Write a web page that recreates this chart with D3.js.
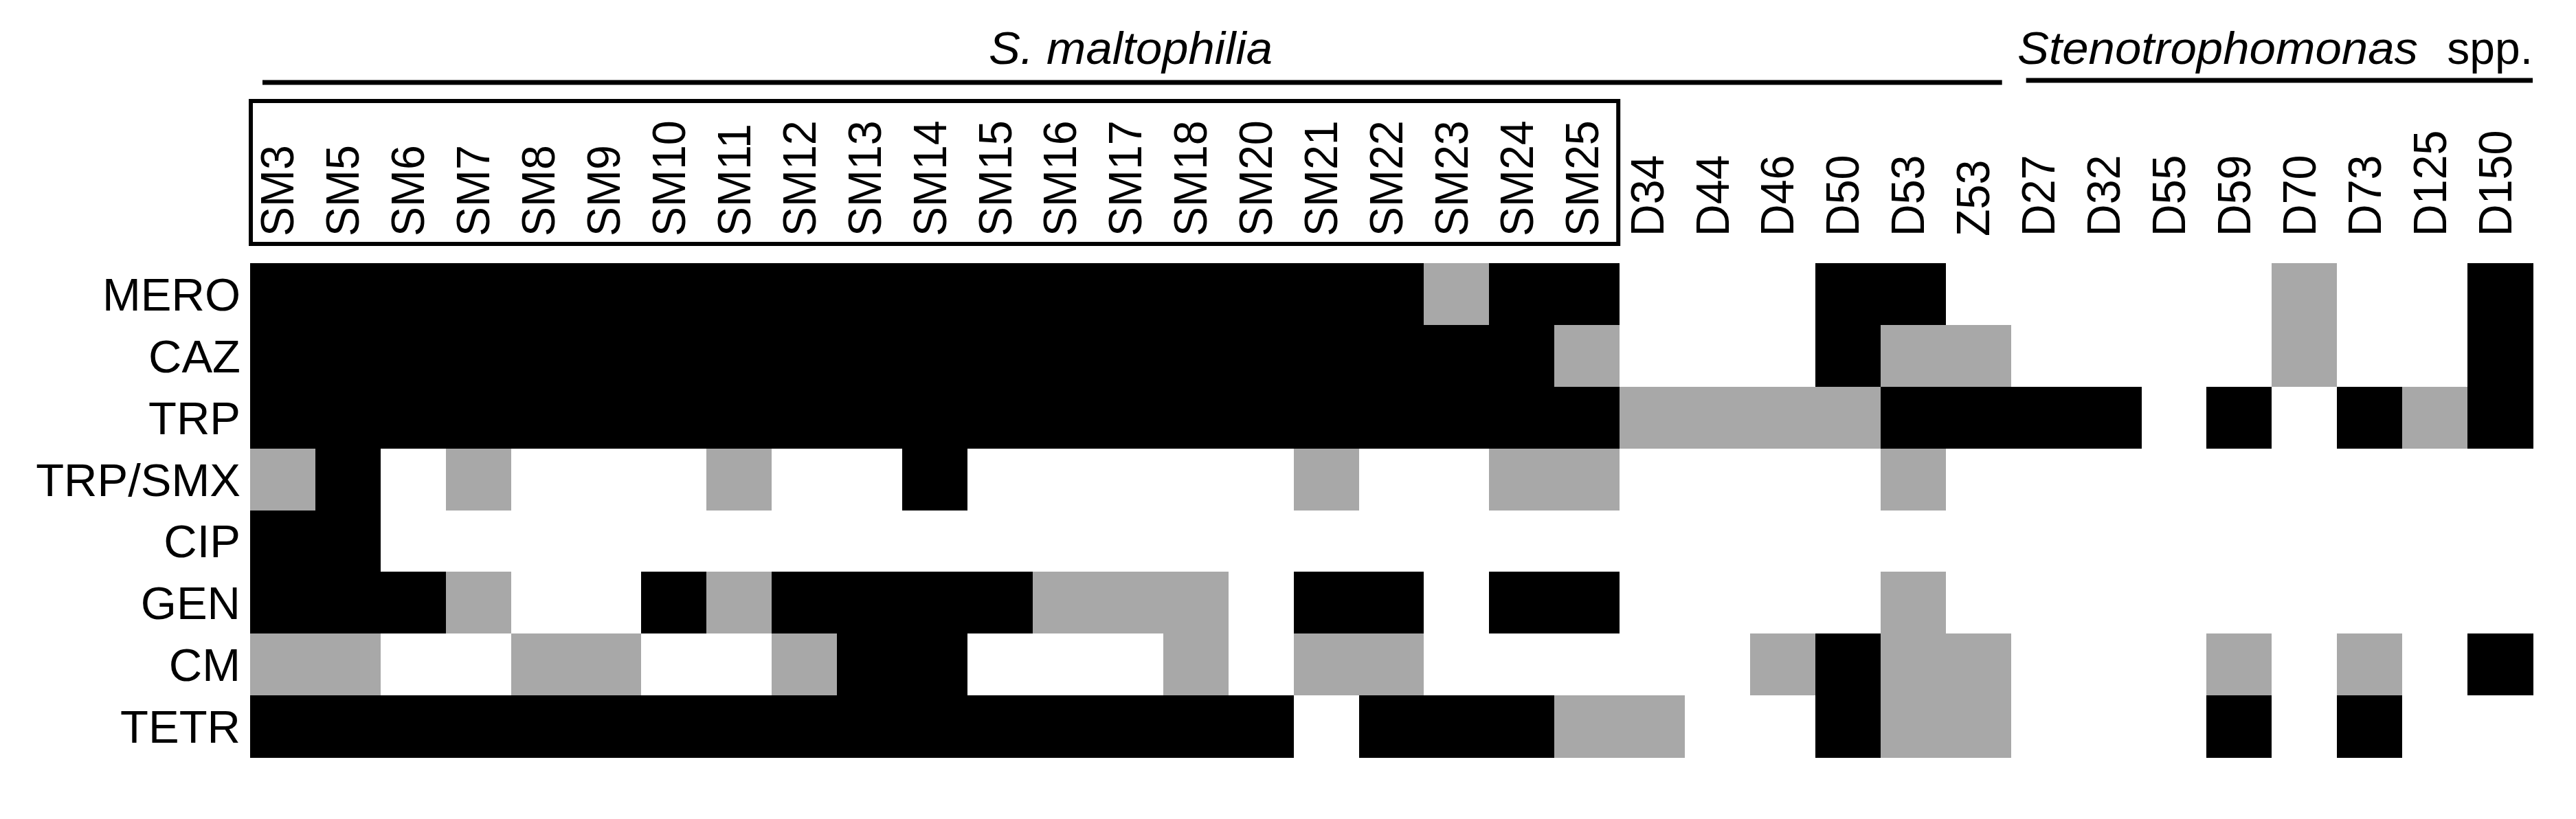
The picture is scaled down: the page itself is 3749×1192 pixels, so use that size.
<!DOCTYPE html>
<html>
<head>
<meta charset="utf-8">
<script src="https://cdn.jsdelivr.net/npm/d3@7"></script>
<style>
  body { margin: 0; background: #fff; }
  svg { display: block; }
  text { font-family: "Liberation Sans", Arial, sans-serif; fill: #000; }
</style>
</head>
<body>
<svg width="3749" height="1192"></svg>
<script>
// isolates (columns) and antibiotics (rows)
var isolates = ["SM3", "SM5", "SM6", "SM7", "SM8", "SM9", "SM10", "SM11", "SM12", "SM13",
    "SM14", "SM15", "SM16", "SM17", "SM18", "SM20", "SM21", "SM22", "SM23", "SM24", "SM25",
    "D34", "D44", "D46", "D50", "D53", "Z53",
    "D27", "D32", "D55", "D59", "D70", "D73", "D125", "D150"];
var antibiotics = ["MERO", "CAZ", "TRP", "TRP/SMX", "CIP", "GEN", "CM", "TETR"];

// 0 = susceptible (white), 1 = intermediate (grey), 2 = resistant (black)
var mero   = [2,2,2,2,2,2,2,2,2,2,2,2,2,2,2,2,2,2,1,2,2, 0,0,0,2,2,0, 0,0,0,0,1,0,0,2];
var caz    = [2,2,2,2,2,2,2,2,2,2,2,2,2,2,2,2,2,2,2,2,1, 0,0,0,2,1,1, 0,0,0,0,1,0,0,2];
var trp    = [2,2,2,2,2,2,2,2,2,2,2,2,2,2,2,2,2,2,2,2,2, 1,1,1,1,2,2, 2,2,0,2,0,2,1,2];
var trpSmx = [1,2,0,1,0,0,0,1,0,0,2,0,0,0,0,0,1,0,0,1,1, 0,0,0,0,1,0, 0,0,0,0,0,0,0,0];
var cip    = [2,2,0,0,0,0,0,0,0,0,0,0,0,0,0,0,0,0,0,0,0, 0,0,0,0,0,0, 0,0,0,0,0,0,0,0];
var gen    = [2,2,2,1,0,0,2,1,2,2,2,2,1,1,1,0,2,2,0,2,2, 0,0,0,0,1,0, 0,0,0,0,0,0,0,0];
var cm     = [1,1,0,0,1,1,0,0,1,2,2,0,0,0,1,0,1,1,0,0,0, 0,0,1,2,1,1, 0,0,0,1,0,1,0,2];
var tetr   = [2,2,2,2,2,2,2,2,2,2,2,2,2,2,2,2,0,2,2,2,1, 1,0,0,2,1,1, 0,0,0,2,0,2,0,0];

var groups = [
    { name: "S. maltophilia", suffix: "", first: "SM3", last: "Z53" },
    { name: "Stenotrophomonas", suffix: "spp.", first: "D27", last: "D150" }
];

var rows = [mero, caz, trp, trpSmx, cip, gen, cm, tetr];
var cells = [];
rows.forEach(function(r, i) {
    r.forEach(function(v, j) {
        cells.push({ ab: antibiotics[i], iso: isolates[j], value: v });
    });
});

var svg = d3.select("svg");

var xs = d3.scaleBand().domain(isolates).range([364, 3686]);
var ys = d3.scaleBand().domain(antibiotics).range([383, 1102]);
var colour = d3.scaleOrdinal().domain([0, 1, 2]).range(["#ffffff", "#a8a8a8", "#000000"]);

var bw = xs.bandwidth();
var bh = ys.bandwidth();

svg.append("g")
    .attr("shape-rendering", "crispEdges")
    .selectAll("rect")
    .data(cells)
    .enter()
    .append("rect")
        .attr("x", function(d) { return xs(d.iso); })
        .attr("y", function(d) { return ys(d.ab); })
        .attr("width", bw + 0.6)
        .attr("height", bh + 0.6)
        .attr("fill", function(d) { return colour(d.value); });

// row labels
svg.append("g")
    .selectAll("text")
    .data(antibiotics)
    .enter()
    .append("text")
        .attr("x", 350)
        .attr("y", function(d) { return ys(d) + bh / 2 + 24; })
        .style("text-anchor", "end")
        .style("font-size", "67px")
        .text(function(d) { return d; });

// column labels, rotated (slightly narrow like the original)
svg.append("g")
    .selectAll("text")
    .data(isolates)
    .enter()
    .append("text")
        .attr("transform", function(d) {
            return "translate(" + (xs(d) + bw / 2 + 16) + ",344) rotate(-90) scale(0.95,1)";
        })
        .style("text-anchor", "start")
        .style("font-size", "68px")
        .text(function(d) { return d; });

// box round the SM isolates
svg.append("rect")
    .attr("x", xs("SM3") + 1)
    .attr("y", 147)
    .attr("width", xs("SM25") + bw - xs("SM3") - 3)
    .attr("height", 208)
    .attr("fill", "none")
    .attr("stroke", "#000")
    .attr("stroke-width", 6);

// group lines + titles
var lineY = [120, 117];
var lineX = [[18, -13], [22, 0]];
var titleX = [1439, 2936];
var titleW = [413, 583];
groups.forEach(function(g, i) {
    var x1 = xs(g.first) + lineX[i][0];
    var x2 = xs(g.last) + bw + lineX[i][1];
    svg.append("line")
        .attr("x1", x1)
        .attr("x2", x2)
        .attr("y1", lineY[i])
        .attr("y2", lineY[i])
        .attr("stroke", "#000")
        .attr("stroke-width", 7);

    svg.append("text")
        .attr("x", titleX[i])
        .attr("y", 93)
        .attr("textLength", titleW[i])
        .attr("lengthAdjust", "spacingAndGlyphs")
        .style("font-size", "66px")
        .style("font-style", "italic")
        .text(g.name);
    if (g.suffix) {
        svg.append("text")
            .attr("x", x2)
            .attr("y", 93)
            .style("text-anchor", "end")
            .style("font-size", "66px")
            .text(g.suffix);
    }
});
</script>
</body>
</html>
